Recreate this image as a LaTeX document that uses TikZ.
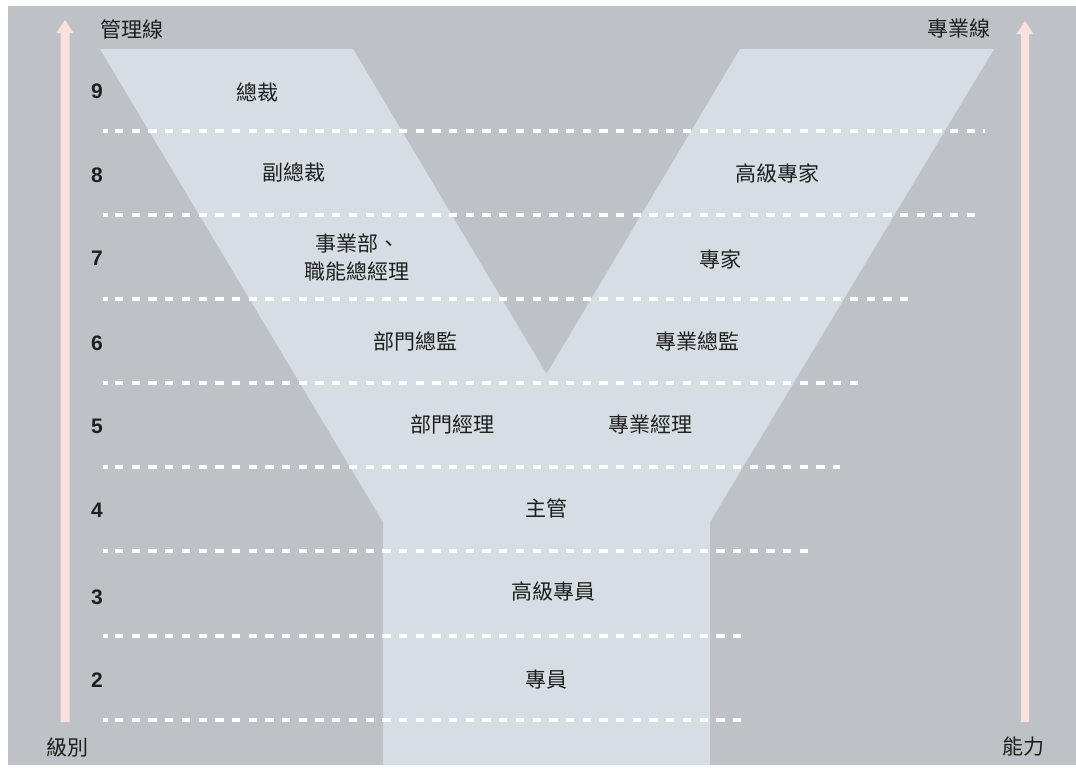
\documentclass[tikz,border=0pt]{standalone}
\usepackage{fontspec}
\newfontfamily\cjk{Noto Sans CJK TC}
\newfontfamily\numfont{Liberation Sans}
\definecolor{bg}{HTML}{BEC1C5}
\definecolor{ylight}{HTML}{D7DEE3}
\definecolor{arrowpink}{HTML}{FBE1DE}
\definecolor{txt}{HTML}{1E1E1E}
\begin{document}
\begin{tikzpicture}[x=1pt,y=-1pt,
  lbl/.style={font=\cjk\fontsize{21}{28}\selectfont, text=txt, inner sep=0pt, align=center},
  num/.style={font=\numfont\bfseries\fontsize{21}{24}\selectfont, text=txt, inner sep=0pt},
  level/.style={white, line width=3.5pt, dash pattern=on 8.3pt off 8.4pt},
  dot/.style={fill=white},
  uparrow/.style={fill=arrowpink},
]
\useasboundingbox (0,0) rectangle (1076,777);
\fill[white] (0,0) rectangle (1076,777);
\fill[bg] (8,6) rectangle (1076,765);
% Y shape
\fill[ylight] (100,49) -- (353,49) -- (546.5,374) -- (740,49) -- (994,49)
  -- (710,522) -- (710,765) -- (383,765) -- (383,522) -- cycle;
% level lines
\foreach \yy/\xe in {131/985, 215/980, 299/913, 383/865, 467/840, 551/808, 636/748, 720/748}{
  \fill[dot] (103,\yy-2) rectangle (108,\yy+2);
  \draw[level] (115,\yy) -- (\xe,\yy);
}
% arrows
\fill[uparrow] (60.5,722) -- (60.5,33) -- (56.5,33) -- (65,20) -- (73.5,33) -- (69.5,33) -- (69.5,722) -- cycle;
\fill[uparrow] (1021,722) -- (1021,34) -- (1016.5,34) -- (1025,21) -- (1033.5,34) -- (1029,34) -- (1029,722) -- cycle;
% axis labels
\node[lbl] (mgr) at (132,29) {管理線};
\node[lbl] (pro) at (959,29) {專業線};
\node[lbl] (lvl) at (67,747) {級別};
\node[lbl] (abl) at (1023,747) {能力};
% level numbers
\node[num] (n9) at (97,91) {9};
\node[num] (n8) at (97,175) {8};
\node[num] (n7) at (97,258) {7};
\node[num] (n6) at (97,343) {6};
\node[num] (n5) at (97,426) {5};
\node[num] (n4) at (97,510) {4};
\node[num] (n3) at (97,597) {3};
\node[num] (n2) at (97,680) {2};
% management line
\node[lbl] (ceo) at (257,92) {總裁};
\node[lbl] (vp) at (294,172) {副總裁};
\node[lbl] (gm) at (357,257) {事業部、\\職能總經理};
\node[lbl] (dir) at (415,341) {部門總監};
\node[lbl] (dmgr) at (452,424) {部門經理};
% professional line
\node[lbl] (sexp) at (777,173) {高級專家};
\node[lbl] (exp) at (720,259) {專家};
\node[lbl] (pdir) at (697,341) {專業總監};
\node[lbl] (pmgr) at (650,424) {專業經理};
% stem
\node[lbl] (sup) at (546,508) {主管};
\node[lbl] (sspec) at (553,591) {高級專員};
\node[lbl] (spec) at (546,680) {專員};
\end{tikzpicture}
\end{document}
